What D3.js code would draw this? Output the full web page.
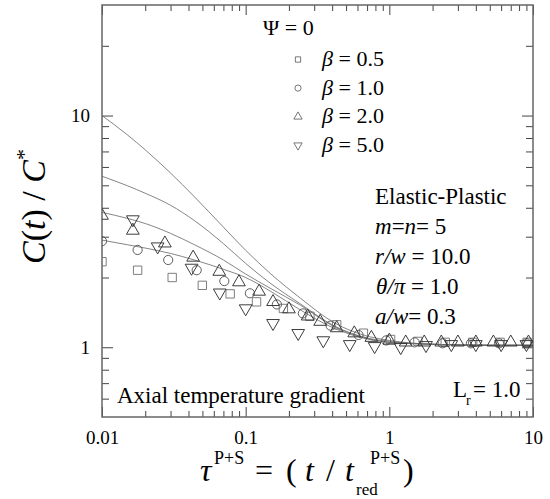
<!DOCTYPE html>
<html>
<head>
<meta charset="utf-8">
<script src="https://cdn.jsdelivr.net/npm/d3@7"></script>
<style>
  body { margin: 0; background: #fff; }
</style>
</head>
<body>
<div id="chart"></div>
<script>
// ---------------------------------------------------------------
// data
const xMajor = [0.01, 0.1, 1, 10];
const yMajor = [1, 10];
const xMinor = [0.02, 0.03, 0.04, 0.05, 0.06, 0.07, 0.08, 0.09,
                0.2, 0.3, 0.4, 0.5, 0.6, 0.7, 0.8, 0.9,
                2, 3, 4, 5, 6, 7, 8, 9];
const yMinor = [0.6, 0.7, 0.8, 0.9, 2, 3, 4, 5, 6, 7, 8, 9, 20];

// solid reference curves
const lineX = [0.01, 0.015, 0.02, 0.03, 0.044, 0.07, 0.1, 0.15, 0.24, 0.41, 0.73, 1, 2, 5, 10];
const line1 = [10, 8.26, 7.11, 5.65, 4.46, 3.3, 2.62, 2.07, 1.63, 1.28, 1.11, 1.07, 1.03, 1.02, 1.02];
const line2 = [5.47, 4.98, 4.62, 4.1, 3.52, 2.8, 2.3, 1.88, 1.54, 1.24, 1.09, 1.06, 1.03, 1.02, 1.02];
const line3 = [3.82, 3.6, 3.42, 3.1, 2.77, 2.38, 2.07, 1.79, 1.52, 1.23, 1.085, 1.05, 1.03, 1.02, 1.02];
const line4 = [2.9, 2.77, 2.68, 2.54, 2.38, 2.17, 2.0, 1.74, 1.45, 1.21, 1.08, 1.05, 1.03, 1.02, 1.02];

// symbols: beta = 0.5 (square)
const sqX = [0.01, 0.0177, 0.0308, 0.0499, 0.078, 0.119, 0.183, 0.28, 0.43, 0.66, 1.02, 1.58, 2.45, 3.8, 5.9, 9.1];
const sqY = [2.34, 2.15, 2.0, 1.85, 1.7, 1.57, 1.47, 1.36, 1.25, 1.15, 1.08, 1.06, 1.05, 1.05, 1.05, 1.05];
// beta = 1.0 (circle)
const ciX = [0.01, 0.0177, 0.0289, 0.0456, 0.071, 0.107, 0.165, 0.25, 0.39, 0.61, 0.95, 1.5, 2.35, 3.7, 5.8, 9.0];
const ciY = [2.87, 2.63, 2.38, 2.15, 1.93, 1.71, 1.53, 1.4, 1.24, 1.13, 1.07, 1.05, 1.04, 1.04, 1.04, 1.04];
// beta = 2.0 (triangle up)
const upX = [0.01, 0.0164, 0.0274, 0.0431, 0.0655, 0.0898, 0.124, 0.155, 0.2, 0.27, 0.33, 0.43, 0.57,
             0.75, 1.0, 1.3, 1.75, 2.3, 3.0, 4.0, 5.3, 7.0, 9.3];
const upY = [3.7, 3.19, 2.81, 2.44, 2.12, 1.91, 1.74, 1.57, 1.46, 1.36, 1.29, 1.21, 1.15,
             1.1, 1.07, 1.05, 1.05, 1.05, 1.05, 1.05, 1.05, 1.05, 1.05];
// beta = 5.0 (triangle down)
const dnX = [0.0164, 0.0244, 0.042, 0.066, 0.1, 0.155, 0.232, 0.347, 0.53, 0.79, 1.2, 1.8, 2.7, 4.0, 6.0, 9.0];
const dnY = [3.56, 2.72, 2.2, 1.72, 1.47, 1.27, 1.15, 1.07, 1.03, 1.01, 1.0, 1.02, 1.03, 1.03, 1.03, 1.03];

const legendLabels = ["0.5", "1.0", "2.0", "5.0"];

// ---------------------------------------------------------------
const SERIF = "'Liberation Serif', 'Times New Roman', Times, 'DejaVu Serif', serif";
const W = 550, H = 499;
const margin = { top: 5, right: 17, bottom: 82, left: 102 };
const width = W - margin.left - margin.right;
const height = H - margin.top - margin.bottom;

const svg = d3.select("#chart").append("svg")
  .attr("width", W).attr("height", H)
  .attr("font-family", SERIF);
const g = svg.append("g").attr("transform", `translate(${margin.left},${margin.top})`);

const x = d3.scaleLog().domain([0.01, 10]).range([0, width]);
const y = d3.scaleLog().domain([0.5, 30]).range([height, 0]);

svg.append("defs").append("clipPath").attr("id", "plotclip")
  .append("rect").attr("width", width).attr("height", height);

// axes -----------------------------------------------------------
function ax(axisFn, scale, vals, size, pad, fmt) {
  return axisFn(scale).tickValues(vals).tickSizeInner(-size).tickSizeOuter(0)
    .tickPadding(pad).tickFormat(fmt);
}
const fmtX = d => (d < 1 ? d3.format(".2~f")(d) : String(d));
const none = () => "";

const axes = g.append("g");
axes.append("g").attr("transform", `translate(0,${height})`).call(ax(d3.axisBottom, x, xMajor, 10, 14, fmtX));
axes.append("g").attr("transform", `translate(0,${height})`).call(ax(d3.axisBottom, x, xMinor, 6, 0, none));
axes.append("g").call(ax(d3.axisTop, x, xMajor, 10, 0, none));
axes.append("g").call(ax(d3.axisTop, x, xMinor, 6, 0, none));
axes.append("g").call(ax(d3.axisLeft, y, yMajor, 11, 12, d => String(d)));
axes.append("g").call(ax(d3.axisLeft, y, yMinor, 7, 0, none));
axes.append("g").attr("transform", `translate(${width},0)`).call(ax(d3.axisRight, y, yMajor, 11, 0, none));
axes.append("g").attr("transform", `translate(${width},0)`).call(ax(d3.axisRight, y, yMinor, 7, 0, none));

axes.selectAll("g").attr("font-family", SERIF).attr("font-size", 19);
axes.selectAll(".domain").remove();
axes.selectAll(".tick line").attr("stroke", "#444").attr("stroke-width", 1);
axes.selectAll(".tick text").attr("fill", "#000");

g.append("rect").attr("width", width).attr("height", height)
  .attr("fill", "none").attr("stroke", "#666").attr("stroke-width", 1.5);

// curves ---------------------------------------------------------
const plot = g.append("g").attr("clip-path", "url(#plotclip)");
const lineGen = d3.line().x(d => x(d[0])).y(d => y(d[1])).curve(d3.curveMonotoneX);
[line1, line2, line3, line4].forEach(ys => {
  plot.append("path")
    .attr("d", lineGen(lineX.map((v, i) => [v, ys[i]])))
    .attr("fill", "none").attr("stroke", "#666").attr("stroke-width", 0.8);
});

// symbols --------------------------------------------------------
const series = [
  { xs: sqX, ys: sqY, type: d3.symbolSquare, size: 70, rot: 0, color: "#777" },
  { xs: ciX, ys: ciY, type: d3.symbolCircle, size: 66, rot: 0, color: "#555" },
  { xs: upX, ys: upY, type: d3.symbolTriangle, size: 70, rot: 0, color: "#333" },
  { xs: dnX, ys: dnY, type: d3.symbolTriangle, size: 70, rot: 180, color: "#333" },
];
series.forEach(s => {
  plot.append("g").selectAll("path")
    .data(s.xs.map((v, i) => [v, s.ys[i]]))
    .join("path")
    .attr("d", d3.symbol().type(s.type).size(s.size))
    .attr("transform", d => `translate(${x(d[0])},${y(d[1])}) rotate(${s.rot})`)
    .attr("fill", "none").attr("stroke", s.color).attr("stroke-width", 0.95);
});

// legend ---------------------------------------------------------
svg.append("text").attr("x", 263).attr("y", 35).attr("font-size", 22).text("Ψ = 0");
const leg = svg.append("g");
const legSizes = [28, 30, 30, 30];
series.forEach((s, i) => {
  const yy = 66 + i * 28.6;
  leg.append("path")
    .attr("d", d3.symbol().type(s.type).size(legSizes[i]))
    .attr("transform", `translate(298,${yy - 6.5}) rotate(${s.rot})`)
    .attr("fill", "none").attr("stroke", "#555").attr("stroke-width", 0.8);
  const t = leg.append("text").attr("x", 322).attr("y", yy).attr("font-size", 22);
  t.append("tspan").attr("font-style", "italic").text("β");
  t.append("tspan").text(" = " + legendLabels[i]);
});

// annotations ----------------------------------------------------
const ann = svg.append("g").attr("font-size", 23);
ann.append("text").attr("x", 375).attr("y", 204).text("Elastic-Plastic");
let t = ann.append("text").attr("x", 375).attr("y", 234);
t.append("tspan").attr("font-style", "italic").text("m");
t.append("tspan").text("=");
t.append("tspan").attr("font-style", "italic").text("n");
t.append("tspan").text("= 5");
t = ann.append("text").attr("x", 375).attr("y", 264);
t.append("tspan").attr("font-style", "italic").text("r/w");
t.append("tspan").text(" = 10.0");
t = ann.append("text").attr("x", 376).attr("y", 294);
t.append("tspan").attr("font-style", "italic").text("θ/π");
t.append("tspan").text(" = 1.0");
t = ann.append("text").attr("x", 375).attr("y", 324);
t.append("tspan").attr("font-style", "italic").text("a/w");
t.append("tspan").text("= 0.3");

ann.append("text").attr("x", 117).attr("y", 403).text("Axial temperature gradient");
ann.append("text").attr("x", 453).attr("y", 397).text("L");
ann.append("text").attr("x", 466).attr("y", 405).attr("font-size", 14).text("r");
ann.append("text").attr("x", 473).attr("y", 397).text("= 1.0");

// axis titles ----------------------------------------------------
const yl = svg.append("text").attr("transform", "translate(45,264) rotate(-90)").attr("font-size", 34);
yl.append("tspan").attr("font-style", "italic").text("C");
yl.append("tspan").text("(");
yl.append("tspan").attr("font-style", "italic").text("t");
yl.append("tspan").text(") / ");
yl.append("tspan").attr("font-style", "italic").text("C");
yl.append("tspan").attr("font-size", 22).attr("dy", -14).text("*");

const xl = svg.append("g").attr("font-size", 32);
const xt = (txt, px, py, opts = {}) => xl.append("text").attr("x", px).attr("y", py)
  .attr("font-size", opts.size || null).attr("font-style", opts.italic ? "italic" : null).text(txt);
xt("τ", 200, 481, { italic: true });
xt("P+S", 214, 464, { size: 18 });
xt("=", 255, 481);
xt("(", 286, 481);
xt("t", 305, 481, { italic: true });
xt("/", 326, 481);
xt("t", 345, 481, { italic: true });
xt("red", 356, 495, { size: 17 });
xt("P+S", 370, 464, { size: 18 });
xt(")", 403, 481);
</script>
</body>
</html>
